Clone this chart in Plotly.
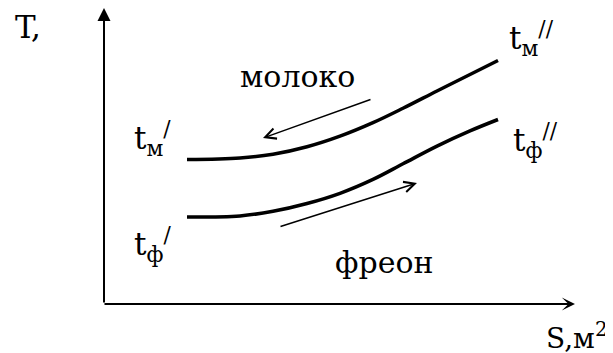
import plotly.graph_objects as go

# Data (chart units: S to the right of the T axis, T above the S axis)
S_points = [83, 136, 169, 203, 236, 269, 299, 333, 366, 394]
T_milk = [144.5, 146.1, 149.7, 157.2, 167.8, 181.3, 195.7, 213.0, 229.5, 243.5]
T_freon = [87.0, 88.1, 92.7, 100.5, 110.7, 124.6, 140.2, 157.9, 173.1, 184.5]

axis_S_end = 471
axis_T_end = 296

milk_arrow_tail = (268, 205)
milk_arrow_head = (159, 166)
freon_arrow_tail = (175, 77)
freon_arrow_head = (313, 121)

# text, x, y, anchor, size
labels = [
    ("T,", -76, 277, "center", 31),
    ("t<sub>м</sub><sup>/</sup>", 28, 166, "left", 31),
    ("t<sub>ф</sub><sup>/</sup>", 28, 60, "left", 31),
    ("t<sub>м</sub><sup>//</sup>", 403, 266, "left", 31),
    ("t<sub>ф</sub><sup>//</sup>", 407, 164, "left", 31),
    ("молоко", 193, 228, "center", 30),
    ("фреон", 280, 42, "center", 30),
    ("S,м<sup>2</sup>", 505, -32, "right", 28),
]

fig = go.Figure()
fig.add_trace(go.Scatter(x=S_points, y=T_milk, mode="lines",
                         line=dict(color="black", width=3.5, shape="spline", smoothing=1)))
fig.add_trace(go.Scatter(x=S_points, y=T_freon, mode="lines",
                         line=dict(color="black", width=3.5, shape="spline", smoothing=1)))

# axes with arrows
fig.add_annotation(x=0, y=axis_T_end, ax=0, ay=0, xref="x", yref="y", axref="x", ayref="y",
                   showarrow=True, arrowhead=2, arrowsize=1.3, arrowwidth=2, arrowcolor="black", text="")
fig.add_annotation(x=axis_S_end, y=0, ax=-1, ay=0, xref="x", yref="y", axref="x", ayref="y",
                   showarrow=True, arrowhead=3, arrowsize=1.1, arrowwidth=2, arrowcolor="black", text="")

# flow arrows
fig.add_annotation(x=milk_arrow_head[0], y=milk_arrow_head[1], ax=milk_arrow_tail[0], ay=milk_arrow_tail[1],
                   xref="x", yref="y", axref="x", ayref="y", showarrow=True, arrowhead=5,
                   arrowsize=1.4, arrowwidth=1.5, arrowcolor="black", text="")
fig.add_annotation(x=freon_arrow_head[0], y=freon_arrow_head[1], ax=freon_arrow_tail[0], ay=freon_arrow_tail[1],
                   xref="x", yref="y", axref="x", ayref="y", showarrow=True, arrowhead=5,
                   arrowsize=1.4, arrowwidth=1.5, arrowcolor="black", text="")

for txt, x, y, anchor, size in labels:
    fig.add_annotation(x=x, y=y, xref="x", yref="y", text=txt, showarrow=False,
                       xanchor=anchor, yanchor="middle",
                       font=dict(family="DejaVu Serif", size=size, color="black"))

# The page body has an 8px margin, so the figure is sized to fit the window
fig.update_layout(
    width=605, height=345, autosize=False,
    margin=dict(l=0, r=0, t=0, b=0),
    paper_bgcolor="white", plot_bgcolor="white",
    showlegend=False,
    xaxis=dict(range=[-96, 509], visible=False, fixedrange=True),
    yaxis=dict(range=[-49, 296], visible=False, fixedrange=True),
)

fig.write_html("out.html")
